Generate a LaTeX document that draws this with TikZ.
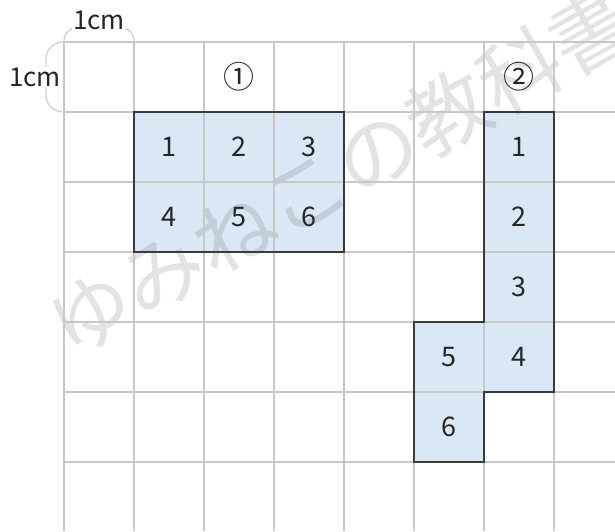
\documentclass[tikz,border=0pt]{standalone}
\usepackage{fontspec}
\setmainfont{Noto Sans CJK JP}
\definecolor{gridgray}{HTML}{C8C8C8}
\definecolor{bracegray}{HTML}{D0D0D0}
\definecolor{outline}{HTML}{3A3A3A}
\definecolor{cellfill}{HTML}{DAE8F6}
\definecolor{txt}{HTML}{262626}
\begin{document}
\begin{tikzpicture}[x=1pt,y=-1pt,
  gridline/.style={draw=gridgray, line width=1.3pt},
  braceline/.style={draw=bracegray, line width=1.3pt},
  shapeline/.style={draw=outline, line width=1.3pt, line join=miter},
  shapefill/.style={fill=cellfill, draw=none},
  num/.style={font=\fontsize{27}{30}\selectfont, text=txt, inner sep=0pt},
  circ/.style={font=\fontsize{31}{34}\selectfont, text=txt, inner sep=0pt},
  lbl/.style={font=\fontsize{26}{30}\selectfont, text=txt, fill=white, inner sep=1pt},
  wmark/.style={font=\fontsize{82}{82}\selectfont, text=black, opacity=0.11, rotate=29.3, inner sep=0pt}]
\useasboundingbox (0,0) rectangle (615,531);
% fills
\fill[shapefill] (134,112) rectangle (344,252);
\fill[shapefill] (484,112) -- (554,112) -- (554,392) -- (484,392) -- (484,462) -- (414,462) -- (414,322) -- (484,322) -- cycle;
% watermark
\node[wmark] (wm) at (341,172) {ゆみねこの教科書};
% grid
\foreach \i in {0,...,7} { \draw[gridline] (64+70*\i,42) -- (64+70*\i,531); }
\foreach \j in {0,...,6} { \draw[gridline] (64,42+70*\j) -- (615,42+70*\j); }
% outlines
\draw[shapeline] (134,112) rectangle (344,252);
\draw[shapeline] (484,112) -- (554,112) -- (554,392) -- (484,392) -- (484,462) -- (414,462) -- (414,322) -- (484,322) -- cycle;
% braces
\draw[braceline, rounded corners=14pt] (64,42) -- (64,27) -- (134,27) -- (134,42);
\draw[braceline, rounded corners=17pt] (64,42) -- (46,42) -- (46,112) -- (64,112);
\node[lbl] (topcm) at (99,20) {1cm};
\node[lbl] (leftcm) at (35,77) {1cm};
% labels of figures
\node[circ] (c1) at (239,77) {①};
\node[circ] (c2) at (519,77) {②};
% figure 1
\node[num] (a1) at (169,147) {1};
\node[num] (a2) at (239,147) {2};
\node[num] (a3) at (309,147) {3};
\node[num] (a4) at (169,217) {4};
\node[num] (a5) at (239,217) {5};
\node[num] (a6) at (309,217) {6};
% figure 2
\node[num] (b1) at (519,147) {1};
\node[num] (b2) at (519,217) {2};
\node[num] (b3) at (519,287) {3};
\node[num] (b4) at (519,357) {4};
\node[num] (b5) at (449,357) {5};
\node[num] (b6) at (449,427) {6};
\end{tikzpicture}
\end{document}
